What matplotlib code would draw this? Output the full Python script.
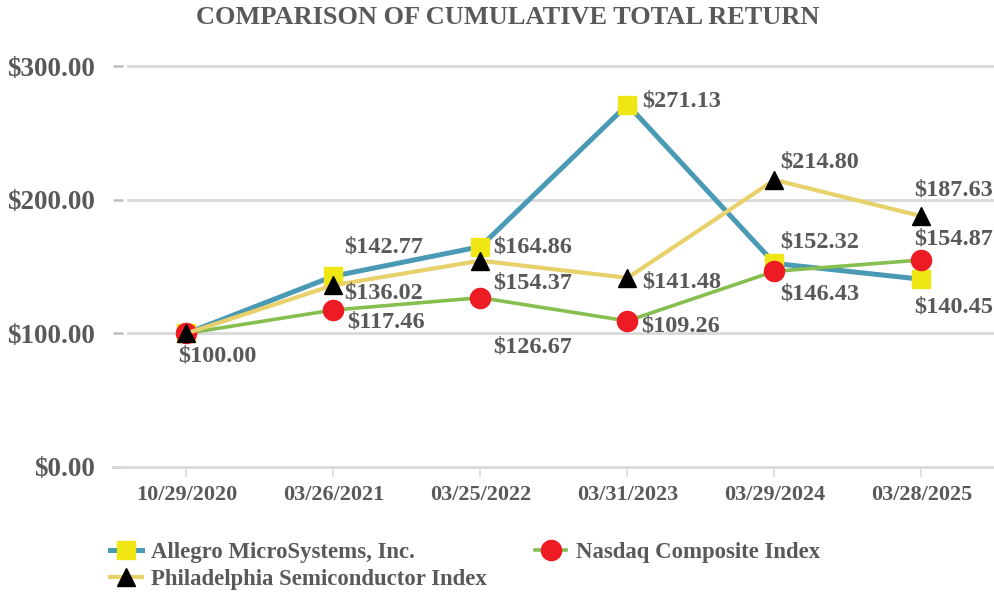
import matplotlib

matplotlib.use("Agg")
import matplotlib.pyplot as plt

plt.rcParams["font.family"] = ["Liberation Serif", "DejaVu Serif"]
plt.rcParams["font.weight"] = "bold"
plt.rcParams["text.parse_math"] = False

# values
dates = ["10/29/2020", "03/26/2021", "03/25/2022", "03/31/2023", "03/29/2024", "03/28/2025"]
allegro = [100.00, 142.77, 164.86, 271.13, 152.32, 140.45]
nasdaq = [100.00, 117.46, 126.67, 109.26, 146.43, 154.87]
sox = [100.00, 136.02, 154.37, 141.48, 214.80, 187.63]
y_ticks = [0, 100, 200, 300]
names = ["Allegro MicroSystems, Inc.", "Nasdaq Composite Index", "Philadelphia Semiconductor Index"]

# label offsets in pixels (dx to left edge, dy to centre); None = no label
allegro_off = [(-8, -23), (11, 29), (13, 0), (15, 4), (6, 21), (-7, -28)]
nasdaq_off = [None, (14, -12), (13, -49), (14, -5), (6, -23), (-7, 21)]
sox_off = [None, (11, -8), (13, -22), (15, -4), (6, 18), (-7, 26)]

TEXT = "#595959"
GRID = "#d9d9d9"

fig = plt.figure(figsize=(9.95, 5.92), dpi=100)
ax = fig.add_axes([113 / 995, 125 / 592, 882 / 995, 401 / 592])

x = list(range(len(dates)))
series = [
    (allegro, allegro_off, dict(color="#4a9ab5", lw=3.6, marker="s", ms=13,
                                mfc="#f0e614", mec="#f0e614")),
    (nasdaq, nasdaq_off, dict(color="#86bf50", lw=2.6, marker="o", ms=14.5,
                              mfc="#ed1c24", mec="#ed1c24")),
    (sox, sox_off, dict(color="#e8d06a", lw=3.0, marker="^", ms=13,
                        mfc="black", mec="black")),
]

handles = []
for i, (vals, offs, style) in enumerate(series):
    (h,) = ax.plot(x, vals, clip_on=False, zorder=3 + i, label=names[i], **style)
    handles.append(h)
    for xi, v, off in zip(x, vals, offs):
        if off is None:
            continue
        ax.annotate(f"${v:.2f}", (xi, v), xytext=off, textcoords="offset pixels",
                    ha="left", va="center", fontsize=17.5, color=TEXT,
                    fontweight="bold", zorder=10)

ax.set_xlim(-0.5, len(dates) - 0.5)
ax.set_ylim(0, 300)
ax.set_yticks(y_ticks)
ax.set_yticklabels([f"${t:.2f}" for t in y_ticks])
ax.set_xticks(x)
ax.set_xticklabels(dates)

# gridlines start a little right of the tick marks
for t in y_ticks[1:]:
    ax.plot([(128 - 113) / 882, 1], [t, t], transform=ax.get_yaxis_transform(),
            color=GRID, lw=2, zorder=1, clip_on=False)

for s in ["top", "right", "left"]:
    ax.spines[s].set_visible(False)
ax.spines["bottom"].set_color(GRID)
ax.spines["bottom"].set_linewidth(2)

ax.tick_params(axis="y", direction="in", length=7, width=1.8, color="#bfbfbf",
               pad=13, labelsize=19.5, labelcolor=TEXT)
ax.tick_params(axis="x", direction="out", length=7, width=1.2, color=GRID,
               pad=6, labelsize=16, labelcolor=TEXT)

fig.text(508 / 995, 1 - 18 / 592, "COMPARISON OF CUMULATIVE TOTAL RETURN",
         ha="center", va="center", fontsize=19, color=TEXT, fontweight="bold")

fig.legend([handles[0], handles[2], handles[1]], [names[0], names[2], names[1]],
           ncol=2, loc="upper left", bbox_to_anchor=(110 / 995, 1 - 542 / 592),
           frameon=False, fontsize=16.4, labelcolor=TEXT, handlelength=1.4,
           handletextpad=0.4, columnspacing=2.1, labelspacing=0.25,
           borderaxespad=0, borderpad=0)

fig.savefig("out.png", dpi=100)
